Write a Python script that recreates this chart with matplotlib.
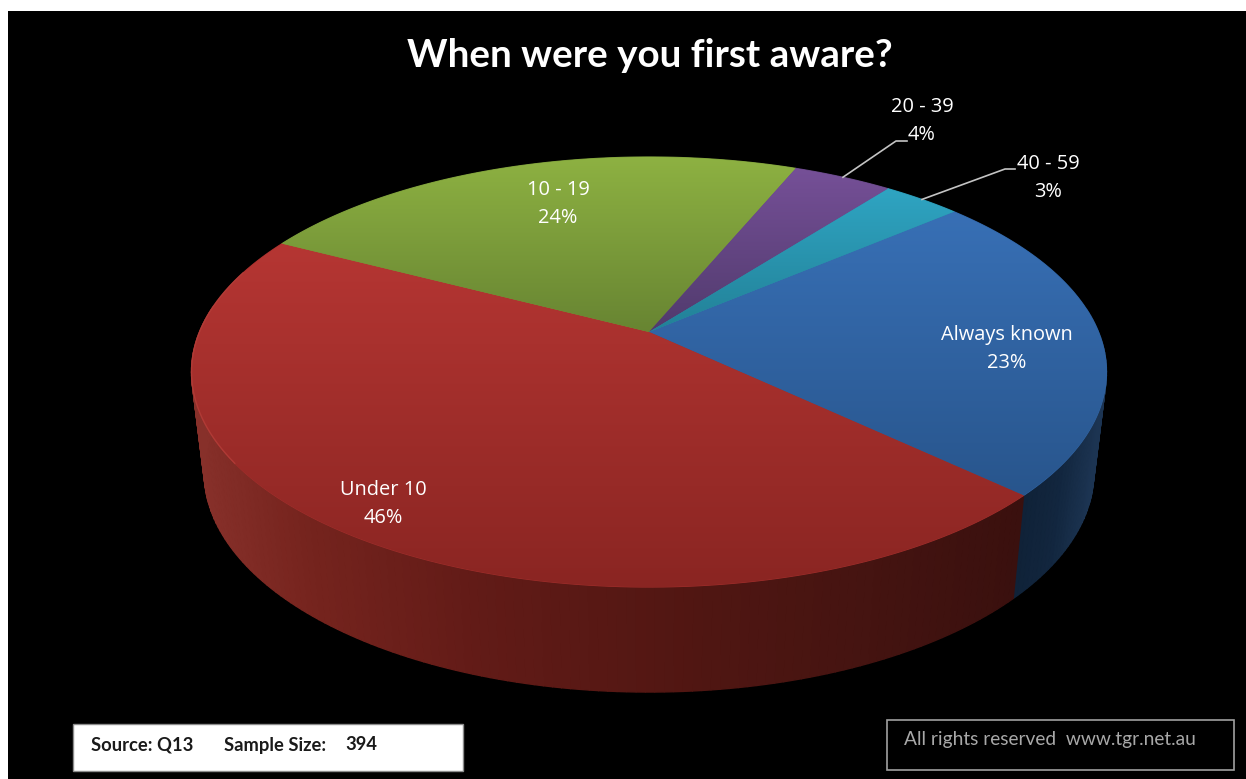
import numpy as np
from matplotlib import pyplot as plt
from matplotlib.patches import Polygon, Rectangle

title = "When were you first aware?"
categories = ["Always known", "Under 10", "10 - 19", "20 - 39", "40 - 59"]
values = [23.3, 45.6, 23.6, 4.2, 3.3]
sample_text = ["Source: Q13", "Sample Size:", "394"]
rights_text = "All rights reserved  www.tgr.net.au"

# colours per slice, gradient top -> bottom
top_colors = [(56, 112, 182), (182, 54, 51), (142, 178, 66), (118, 80, 152), (47, 165, 195)]
bot_colors = [(40, 85, 140), (138, 37, 34), (103, 132, 50), (80, 58, 108), (34, 128, 150)]

# where the labels sit (pixels)
label_pos = [(1007, 334), (383, 489), (558, 189), (922, 106), (1048, 163)]

W, H = 1246, 779
cx, cy, k = 649, 332, 0.186
a_top, b_top = 449.5, 207.6
a_bot, b_bot, cy_bot = 437, 212, 431.6
start_angle = 319.5


def top_pt(t):
    # t in degrees, clockwise on screen from the right
    X, Y = np.cos(np.radians(t)), np.sin(np.radians(t))
    d = 1 - k * Y
    return cx + a_top * X / d, cy + b_top * Y / d


def bot_pt(t):
    X, Y = np.cos(np.radians(t)), np.sin(np.radians(t))
    d = 1 - k * Y
    return cx + a_bot * X / d, cy_bot + b_bot * Y / d


def wall_color(x, slice_i):
    if slice_i == 0:
        xs, cs = [1013, 1060, 1098], [(15, 33, 54), (18, 38, 62), (28, 52, 82)]
    else:
        xs = [195, 300, 470, 700, 850, 1020]
        cs = [(135, 48, 42), (118, 36, 30), (98, 27, 23), (80, 22, 18), (70, 20, 17), (58, 16, 14)]
    cs = np.array(cs, dtype=float)
    return tuple(np.interp(x, xs, cs[:, j]) / 255 for j in range(3))


fig = plt.figure(figsize=(W / 100, H / 100), dpi=100, facecolor="white")
ax = fig.add_axes([0, 0, 1, 1])
ax.axis("off")
ax.add_patch(Rectangle((8, 11), W - 8, H - 11, fc="black", ec="none", zorder=0))

edges = start_angle + np.cumsum([0] + values) * 3.6

# side walls first
for i in range(len(values)):
    ts = np.arange(edges[i], edges[i + 1], 1.0)
    ts = np.append(ts, edges[i + 1])
    for t0, t1 in zip(ts[:-1], ts[1:]):
        if np.sin(np.radians(t0)) < -0.12:
            continue
        p = [top_pt(t0), top_pt(t1), bot_pt(t1), bot_pt(t0)]
        col = wall_color((p[0][0] + p[1][0]) / 2, i)
        ax.add_patch(Polygon(p, fc=col, ec=col, lw=1.0, zorder=1))

# top face, one gradient image per slice clipped to the wedge
for i in range(len(values)):
    ts = np.linspace(edges[i], edges[i + 1], 150)
    pts = [(cx, cy)] + [top_pt(t) for t in ts]
    ys = [p[1] for p in pts]
    xs = [p[0] for p in pts]
    ramp = np.linspace(0, 1, 256)[:, None, None]
    img = (np.array(top_colors[i]) * (1 - ramp) + np.array(bot_colors[i]) * ramp) / 255
    # flat polygon under the image so no dark seam shows between slices
    mid = (np.array(top_colors[i]) + np.array(bot_colors[i])) / 510
    ax.add_patch(Polygon(pts, fc=mid, ec=mid, lw=0.8, zorder=1.5 + i * 0.01))
    poly = Polygon(pts, fc="none", ec="none", transform=ax.transData)
    ax.add_patch(poly)
    im = ax.imshow(img, extent=[min(xs) - 2, max(xs) + 2, max(ys) + 2, min(ys) - 2],
                   aspect="auto", zorder=2, interpolation="bilinear")
    im.set_clip_path(poly)

# light rim on the front left of the under 10 slice
ts = np.linspace(edges[2] - 62, edges[2] - 10, 200)
rim = np.array([top_pt(t) for t in ts])
ax.plot(rim[:, 0], rim[:, 1], color=(0.72, 0.25, 0.23), lw=1.0, alpha=0.7, zorder=3)

ax.set_xlim(0, W)
ax.set_ylim(H, 0)

ax.text(650, 55, title, color="white", fontsize=27.8, fontweight="bold", family="Lato",
        ha="center", va="center", zorder=5)

for name, v, (lx, ly) in zip(categories, values, label_pos):
    ax.text(lx, ly + 1, name, color="white", fontsize=14.4, family="Open Sans", ha="center", va="center", zorder=5)
    ax.text(lx, ly + 29, f"{v:.0f}%", color="white", fontsize=14.4, family="Open Sans", ha="center", va="center", zorder=5)

# leader lines for the two small slices
elbows = {3: [(896, 141), (907, 141)], 4: [(1005, 169), (1015, 169)]}
for i, elbow in elbows.items():
    x0, y0 = top_pt((edges[i] + edges[i + 1]) / 2)
    ax.plot([x0, elbow[0][0], elbow[1][0]], [y0, elbow[0][1], elbow[1][1]],
            color="#c4c4c4", lw=1.2, zorder=4)

# footer boxes
ax.add_patch(Rectangle((73, 724), 390, 47, fc="white", ec="#8c8c8c", lw=1, zorder=4))
for s, x in zip(sample_text, [91, 224, 345]):
    ax.text(x, 745, s, color="#1a1a1a", fontsize=13.2, fontweight="bold", family="Lato", ha="left", va="center", zorder=5)
ax.add_patch(Rectangle((887, 720), 347, 50, fc="black", ec="#a0a0a0", lw=1.2, zorder=4))
ax.text(904, 740, rights_text, color="#a8a8a8", fontsize=13.8, family="Lato", ha="left", va="center", zorder=5)

fig.savefig("out.png", dpi=100, facecolor="white")
